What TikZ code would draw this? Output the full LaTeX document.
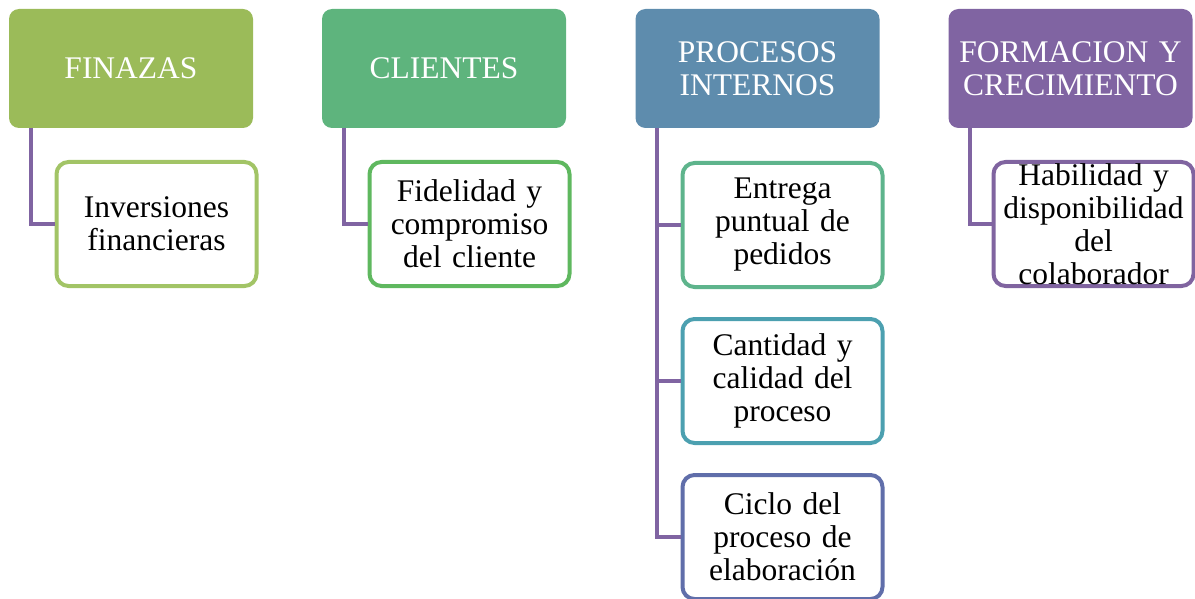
\documentclass[tikz,border=0pt]{standalone}
\usepackage{fontspec}
\setmainfont{Liberation Serif}
\definecolor{cFin}{RGB}{155,187,89}
\definecolor{cCli}{RGB}{94,180,125}
\definecolor{cPro}{RGB}{94,140,173}
\definecolor{cFor}{RGB}{128,100,162}
\definecolor{bFin}{RGB}{162,196,102}
\definecolor{bCli}{RGB}{95,184,95}
\definecolor{bEnt}{RGB}{94,180,140}
\definecolor{bCan}{RGB}{76,160,176}
\definecolor{bCic}{RGB}{96,110,170}
\definecolor{bHab}{RGB}{128,100,160}
\definecolor{cLine}{RGB}{128,100,162}
\tikzset{
  hdr/.style={rounded corners=10pt, minimum width=244pt, minimum height=119pt, inner sep=0pt,
    text=white, align=center, text width=240pt, font=\fontsize{31.5}{33}\selectfont},
  child/.style={rounded corners=12pt, draw, line width=4pt, fill=white, minimum width=199pt,
    minimum height=124pt, inner sep=0pt, align=center, text width=200pt,
    font=\fontsize{31.5}{33}\selectfont},
  conn/.style={draw=cLine, line width=4pt}
}
\begin{document}
\begin{tikzpicture}[x=1pt,y=-1pt]
\useasboundingbox (0,0) rectangle (1195,599);
% headers
\node[hdr, fill=cFin] (h1) at (131,68.5) {FINAZAS};
\node[hdr, fill=cCli] (h2) at (444,68.5) {CLIENTES};
\node[hdr, fill=cPro] (h3) at (757.5,68.5) {PROCESOS\\INTERNOS};
\node[hdr, fill=cFor] (h4) at (1070.5,68.5) {FORMACION Y\\CRECIMIENTO};
% connector origins
\coordinate (o1) at (31,128);
\coordinate (o2) at (344,128);
\coordinate (o3) at (657,128);
\coordinate (o4) at (970,128);
% children
\node[child, draw=bFin] (c1) at (156.5,224) {Inversiones\\financieras};
\node[child, draw=bCli] (c2) at (469.5,224) {Fidelidad y\\compromiso\\del cliente};
\node[child, draw=bEnt] (p1) at (782.5,225) {Entrega\\puntual de\\pedidos};
\node[child, draw=bCan] (p2) at (782.5,381) {Cantidad y\\calidad del\\proceso};
\node[child, draw=bCic] (p3) at (782.5,537) {Ciclo del\\proceso de\\elaboración};
\node[child, draw=bHab] (c4) at (1093.5,224) {Habilidad y\\disponibilidad\\del\\colaborador};
% connectors
\draw[conn] (o1) |- (c1.west);
\draw[conn] (o2) |- (c2.west);
\draw[conn] (o3) |- (p3.west);
\draw[conn] (p1.west) -- (p1.west -| o3);
\draw[conn] (p2.west) -- (p2.west -| o3);
\draw[conn] (o4) |- (c4.west);
\end{tikzpicture}
\end{document}
